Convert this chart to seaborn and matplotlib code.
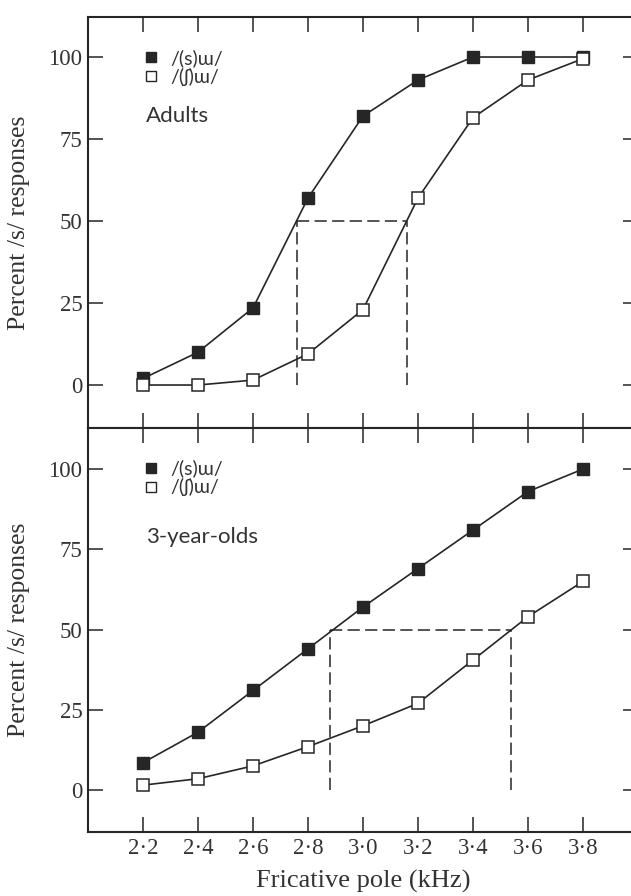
import numpy as np
import pandas as pd
import matplotlib
matplotlib.use("Agg")
import matplotlib.pyplot as plt
from matplotlib.lines import Line2D
import seaborn as sns

# ---- data ----
freqs = [2.2, 2.4, 2.6, 2.8, 3.0, 3.2, 3.4, 3.6, 3.8]
freq_labels = ["2·2", "2·4", "2·6", "2·8", "3·0", "3·2", "3·4", "3·6", "3·8"]
adult_s = [2, 10, 23.5, 57, 82, 93, 100, 100, 100]
adult_sh = [0, 0, 1.5, 9.5, 23, 57, 81.5, 93, 99.5]
child_s = [8.5, 18, 31, 44, 57, 69, 81, 93, 100]
child_sh = [1.5, 3.5, 7.5, 13.5, 20, 27, 40.5, 54, 65]
adult_cross = [2.76, 3.16]
child_cross = [2.88, 3.54]
series_names = ["/(s)ɯ/", "/(ʃ)ɯ/"]
panel_names = ["Adults", "3-year-olds"]
yticks = [0, 25, 50, 75, 100]

sns.set_style("ticks")
serif = ["Liberation Serif", "DejaVu Serif"]
sans = ["Lato", "DejaVu Sans"]
plt.rcParams["font.family"] = serif

ink = "#262626"
txt = "#333333"
W, H = 631, 896
fig = plt.figure(figsize=(W / 100, H / 100), dpi=100)

def fx(px):
    return px / W

def fy(py):
    return 1 - py / H

left, right = 88, 638
ax1 = fig.add_axes([fx(left), fy(428), fx(right - left), fy(17) - fy(428)])
ax2 = fig.add_axes([fx(left), fy(832), fx(right - left), fy(428) - fy(832)])

panels = [
    (ax1, adult_s, adult_sh, adult_cross, panel_names[0], (-13.1, 112.2), 0.758, 0.922),
    (ax2, child_s, child_sh, child_cross, panel_names[1], (-13.1, 112.8), 0.730, 0.922),
]

for i, (ax, ys, ysh, cross, name, ylim, name_y, leg_y) in enumerate(panels):
    df_s = pd.DataFrame({"f": freqs, "p": ys})
    df_sh = pd.DataFrame({"f": freqs, "p": ysh})
    # dashed 50% guides
    ax.plot(cross, [50, 50], color=ink, lw=1.1, ls=(0, (8, 3.5)), zorder=1)
    for c in cross:
        ax.plot([c, c], [0, 50], color=ink, lw=1.1, ls=(0, (8, 3.5)), zorder=1)
    sns.lineplot(data=df_s, x="f", y="p", ax=ax, color=ink, lw=1.2,
                 marker="s", markersize=8.5, markerfacecolor=ink,
                 markeredgecolor=ink, markeredgewidth=1.0, zorder=3)
    sns.lineplot(data=df_sh, x="f", y="p", ax=ax, color=ink, lw=1.2,
                 marker="s", markersize=8.5, markerfacecolor="white",
                 markeredgecolor=ink, markeredgewidth=1.1, zorder=4)
    ax.set_xlim(2.0, 4.0)
    ax.set_ylim(*ylim)
    ax.set_xticks(freqs)
    ax.set_yticks(yticks)
    ax.set_yticklabels([str(t) for t in yticks], fontsize=16.5, color=txt)
    ax.tick_params(direction="in", length=11, width=1.1, color=ink,
                   top=True, right=True, labeltop=False, labelright=False, pad=4)
    if i == 0:
        ax.tick_params(labelbottom=False)
        ax.set_xlabel("")
    else:
        ax.set_xticklabels(freq_labels, fontsize=16.5, color=txt)
        ax.set_xlabel("Fricative pole (kHz)", fontsize=19, color=txt, labelpad=8)
    ax.set_ylabel("Percent /s/ responses", fontsize=18.5, color=txt)
    for sp in ax.spines.values():
        sp.set_color(ink)
        sp.set_linewidth(1.5)
    handles = [
        Line2D([], [], marker="s", ls="none", markersize=7.5, markerfacecolor=ink, markeredgecolor=ink),
        Line2D([], [], marker="s", ls="none", markersize=7.5, markerfacecolor="white", markeredgecolor=ink),
    ]
    leg = ax.legend(handles, series_names, loc="upper left",
                    bbox_to_anchor=(0.103, leg_y),
                    frameon=False, borderpad=0, borderaxespad=0,
                    handlelength=0.7, handletextpad=0.6, labelspacing=0.05,
                    prop={"family": sans, "size": 14})
    for t in leg.get_texts():
        t.set_color(txt)
    ax.text(0.105, name_y, name, transform=ax.transAxes, ha="left", va="center",
            fontsize=16, family=sans, color=txt)

ax1.yaxis.set_label_coords(-0.105, 0.5)
ax2.yaxis.set_label_coords(-0.105, 0.5)

fig.savefig("out.png", dpi=100)
